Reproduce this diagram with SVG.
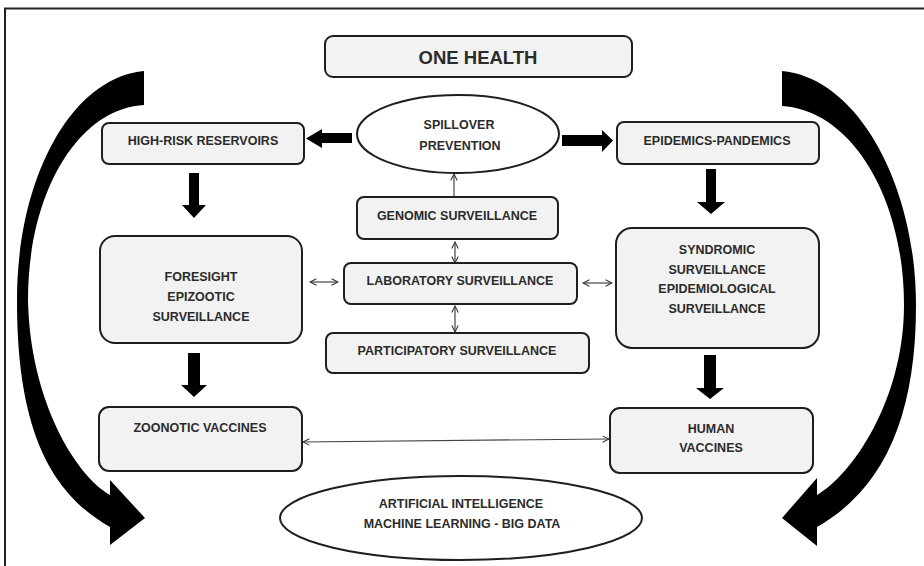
<svg xmlns="http://www.w3.org/2000/svg" width="924" height="566" viewBox="0 0 924 566">
<defs>
<marker id="oa" viewBox="0 0 10 10" refX="9" refY="5" markerWidth="8" markerHeight="8" markerUnits="userSpaceOnUse" orient="auto-start-reverse">
<path d="M1,1 L9,5 L1,9" fill="none" stroke="#333" stroke-width="1.3"/>
</marker>
</defs>
<style>
.box{fill:#f2f2f2;stroke:#1e1e1e;stroke-width:2}
.ell{fill:#ffffff;stroke:#1e1e1e;stroke-width:2}
.t{font-family:"Liberation Sans",Arial,sans-serif;font-weight:bold;font-size:12.5px;fill:#2b2b2b;text-anchor:middle;dominant-baseline:central}
.big{font-size:18.5px}
.thin{fill:none;stroke:#444;stroke-width:1.2;marker-start:url(#oa);marker-end:url(#oa)}
.one{fill:none;stroke:#444;stroke-width:1.2;marker-end:url(#oa)}
.blk{fill:#000;stroke:none}
</style>
<rect x="0" y="0" width="924" height="566" fill="#ffffff"/>
<rect x="5" y="8.5" width="940" height="580" fill="none" stroke="#222" stroke-width="2"/>

<g id="connectors">
<path class="blk" d="M144,71 C70,78 17,180 17,300 C17,420 45,490 110,527 L110,545 L145,518 L110,480 L110,495 C75,475 30,400 28,300 C28,190 80,108 144,105 Z"/>
<path class="blk" d="M782,71 C858,78 916,185 916,305 C916,420 882,490 817,527 L817,546 L782,518 L817,478 L817,495 C852,475 904,400 904,305 C904,195 850,110 782,106 Z"/>
<polygon class="blk" points="352,133 322,133 322,129 306,138.5 322,148 322,143 352,143"/>
<polygon class="blk" points="562,135 602,135 602,130 613,140.5 602,152 602,146 562,146"/>
<polygon class="blk" points="189,173 199,173 199,205 206,205 194,218 182,205 189,205"/>
<polygon class="blk" points="188,353 200,353 200,385 207,385 194,397 181,385 188,385"/>
<polygon class="blk" points="706,169 716,169 716,202 725,202 711,214 697,202 706,202"/>
<polygon class="blk" points="704,355 716,355 716,388 724,388 710,399 696,388 704,388"/>
<line class="one" x1="454" y1="197" x2="454" y2="174"/>
<line class="thin" x1="455" y1="242" x2="455" y2="263"/>
<line class="thin" x1="455" y1="306" x2="455" y2="332"/>
<line class="thin" x1="310" y1="282" x2="338" y2="282"/>
<line class="thin" x1="583" y1="283" x2="612" y2="283"/>
<line class="thin" x1="303" y1="442" x2="609" y2="439"/>
</g>

<g id="one-health">
<rect class="box" x="325" y="36" width="307" height="41" rx="8"/>
<text class="t big" x="478" y="57">ONE HEALTH</text>
</g>
<g id="spillover">
<ellipse class="ell" cx="458" cy="134" rx="101" ry="39"/>
<text class="t" x="459" y="125">SPILLOVER</text>
<text class="t" x="460" y="146">PREVENTION</text>
</g>
<g id="high-risk">
<rect class="box" x="102" y="123" width="202" height="41" rx="7"/>
<text class="t" x="203" y="141">HIGH-RISK RESERVOIRS</text>
</g>
<g id="epidemics">
<rect class="box" x="617" y="122" width="202" height="42" rx="7"/>
<text class="t" x="717" y="141">EPIDEMICS-PANDEMICS</text>
</g>
<g id="genomic">
<rect class="box" x="357" y="197" width="201" height="42" rx="7"/>
<text class="t" x="457" y="216">GENOMIC SURVEILLANCE</text>
</g>
<g id="laboratory">
<rect class="box" x="344" y="263" width="233" height="41" rx="7"/>
<text class="t" x="460" y="281">LABORATORY SURVEILLANCE</text>
</g>
<g id="participatory">
<rect class="box" x="326" y="333" width="263" height="40" rx="7"/>
<text class="t" x="457" y="351">PARTICIPATORY SURVEILLANCE</text>
</g>
<g id="foresight">
<rect class="box" x="100" y="236" width="202" height="107" rx="15"/>
<text class="t" x="201" y="277">FORESIGHT</text>
<text class="t" x="201" y="297">EPIZOOTIC</text>
<text class="t" x="201" y="317">SURVEILLANCE</text>
</g>
<g id="syndromic">
<rect class="box" x="616" y="228" width="203" height="120" rx="16"/>
<text class="t" x="717" y="250">SYNDROMIC</text>
<text class="t" x="717" y="270">SURVEILLANCE</text>
<text class="t" x="717" y="289">EPIDEMIOLOGICAL</text>
<text class="t" x="717" y="309">SURVEILLANCE</text>
</g>
<g id="zoonotic-vaccines">
<rect class="box" x="99" y="407" width="203" height="64" rx="10"/>
<text class="t" x="200" y="428">ZOONOTIC VACCINES</text>
</g>
<g id="human-vaccines">
<rect class="box" x="610" y="408" width="203" height="65" rx="10"/>
<text class="t" x="711" y="429">HUMAN</text>
<text class="t" x="711" y="448">VACCINES</text>
</g>
<g id="ai">
<ellipse class="ell" cx="461" cy="518" rx="181" ry="42"/>
<text class="t" x="461" y="504">ARTIFICIAL INTELLIGENCE</text>
<text class="t" x="462" y="524">MACHINE LEARNING - BIG DATA</text>
</g>
</svg>
